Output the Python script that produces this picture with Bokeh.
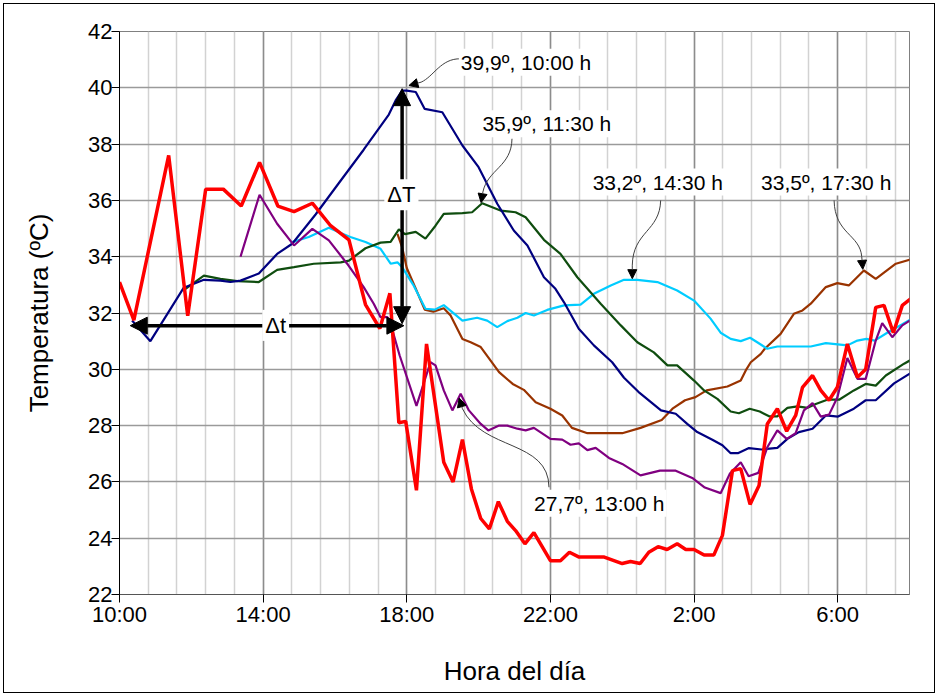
from bokeh.plotting import figure
from bokeh.models import FixedTicker, Label, Arrow, NormalHead, Range1d
from bokeh.embed import file_html
from bokeh.resources import INLINE

# ---- data: hours elapsed since 10:00 (x) and temperature in ºC (y) ----
red_t = [0.0, 0.4, 1.37, 1.9, 2.4, 2.89, 3.39, 3.9, 4.41, 4.86, 5.37, 5.88, 6.39, 6.85, 7.25,
         7.53, 7.78, 7.97, 8.27, 8.55, 9.03, 9.29, 9.55, 9.8, 10.06, 10.3, 10.55, 10.8, 11.03,
         11.29, 11.54, 12.0, 12.28, 12.53, 12.8, 13.5, 14.0, 14.23, 14.5, 14.74, 15.0, 15.25,
         15.53, 15.77, 16.0, 16.28, 16.55, 16.79, 17.07, 17.3, 17.56, 17.81, 18.04, 18.32,
         18.58, 18.83, 19.02, 19.3, 19.53, 19.76, 19.99, 20.27, 20.55, 20.78, 21.06, 21.29,
         21.55, 21.8, 22.03, 22.2]
red_v = [33.1, 31.75, 37.6, 31.9, 36.4, 36.4, 35.8, 37.35, 35.8, 35.6, 35.9, 35.1, 34.6, 32.3, 31.45,
         32.7, 28.1, 28.15, 25.7, 30.9, 26.7, 26.0, 27.5, 25.75, 24.7, 24.33, 25.3, 24.6, 24.27,
         23.8, 24.2, 23.2, 23.2, 23.5, 23.33, 23.33, 23.1, 23.17, 23.1, 23.5, 23.7, 23.6,
         23.8, 23.6, 23.6, 23.4, 23.4, 24.1, 26.4, 26.47, 25.2, 25.87, 28.06, 28.6,
         27.8, 28.36, 29.36, 29.78, 29.25, 28.9, 29.36, 30.9, 29.72, 30.0, 32.2, 32.27,
         31.3, 32.27, 32.5, 32.3]

navy_t = [0.35, 0.86, 1.79, 2.35, 2.81, 3.09, 3.37, 3.88, 4.39, 4.81, 5.46, 6.1, 6.8, 7.5, 7.69,
          7.87, 8.0, 8.25, 8.5, 8.99, 9.55, 10.0, 10.52, 10.98, 11.36, 11.82, 12.14, 12.38,
          12.79, 13.21, 13.72, 14.05, 14.45, 15.08, 15.49, 15.81, 16.09, 16.51, 16.79, 17.02,
          17.22, 17.53, 17.88, 18.32, 18.6, 18.92, 19.3, 19.67, 20.01, 20.45, 20.78, 21.06,
          21.57, 22.2]
navy_v = [31.73, 31.0, 32.9, 33.18, 33.15, 33.1, 33.15, 33.4, 34.1, 34.46, 35.5, 36.6, 37.8, 39.05, 39.55,
          39.9, 39.9, 39.85, 39.25, 39.13, 37.95, 37.18, 35.88, 34.93, 34.4, 33.27, 32.86, 32.38,
          31.44, 30.85, 30.25, 29.7, 29.2, 28.54, 28.42, 28.06, 27.77, 27.5, 27.3, 27.02,
          27.02, 27.2, 27.15, 27.21, 27.53, 27.77, 27.89, 28.36, 28.32, 28.6, 28.9, 28.9,
          29.5, 30.0]

green_t = [1.84, 2.35, 2.81, 3.28, 3.88, 4.39, 4.86, 5.41, 6.16, 6.39, 6.85, 7.27, 7.55, 7.78, 7.95,
           8.25, 8.52, 8.8, 9.03, 9.55, 9.82, 10.1, 10.61, 11.03, 11.31, 11.82, 12.28, 12.75,
           13.4, 13.96, 14.42, 14.88, 15.26, 15.53, 16.0, 16.28, 16.65, 17.02, 17.25, 17.55,
           17.83, 18.09, 18.32, 18.6, 18.88, 19.16, 19.39, 19.71, 20.04, 20.45, 20.78, 21.06,
           21.34, 21.85, 22.2]
green_v = [32.86, 33.33, 33.21, 33.13, 33.1, 33.53, 33.63, 33.75, 33.8, 33.86, 34.3, 34.5, 34.53, 34.97, 34.8,
           34.88, 34.64, 35.1, 35.52, 35.55, 35.58, 35.9, 35.64, 35.58, 35.4, 34.6, 34.1, 33.27,
           32.33, 31.56, 30.96, 30.6, 30.14, 30.14, 29.6, 29.25, 28.95, 28.5, 28.44, 28.6,
           28.5, 28.33, 28.33, 28.63, 28.68, 28.63, 28.77, 28.92, 28.92, 29.25, 29.48, 29.42,
           29.78, 30.2, 30.45]

cyan_t = [4.76, 5.27, 5.83, 6.16, 6.43, 6.85, 7.27, 7.55, 7.74, 7.87, 8.18, 8.52, 8.78, 9.03, 9.25,
          9.55, 9.96, 10.24, 10.52, 10.8, 11.08, 11.31, 11.54, 11.91, 12.38, 12.84, 13.21, 13.68,
          14.05, 14.42, 14.98, 15.53, 16.0, 16.46, 16.74, 17.02, 17.3, 17.56, 17.76, 18.04, 18.32,
          19.25, 19.67, 20.27, 20.55, 20.8, 21.03, 21.38, 21.8, 22.2]
cyan_v = [34.5, 34.7, 35.03, 34.84, 34.7, 34.52, 34.28, 33.75, 33.8, 33.63, 33.0, 32.15, 32.12, 32.28, 32.05,
          31.73, 31.83, 31.73, 31.5, 31.71, 31.83, 32.0, 31.91, 32.11, 32.27, 32.3, 32.68, 32.98,
          33.18, 33.18, 33.1, 32.8, 32.44, 31.8, 31.3, 31.08, 31.0, 31.12, 30.96, 30.73, 30.81,
          30.81, 30.93, 30.85, 31.02, 31.08, 31.02, 31.3, 31.6, 31.9]

brown_t = [7.74, 7.87, 8.0, 8.22, 8.5, 8.74, 9.03, 9.22, 9.55, 9.78, 10.06, 10.57, 10.95, 11.26, 11.59,
           12.0, 12.33, 12.6, 13.03, 14.0, 14.51, 15.1, 15.4, 15.75, 16.04, 16.35, 16.93, 17.3,
           17.44, 17.58, 17.86, 17.97, 18.41, 18.78, 19.02, 19.25, 19.67, 19.99, 20.31, 20.73,
           21.06, 21.62, 22.2]
brown_v = [34.81, 34.34, 33.6, 32.95, 32.12, 32.05, 32.17, 31.91, 31.08, 30.96, 30.79, 29.9, 29.48, 29.27, 28.83,
           28.6, 28.36, 27.92, 27.73, 27.73, 27.92, 28.2, 28.6, 28.9, 29.01, 29.25, 29.39, 29.6,
           29.96, 30.25, 30.55, 30.73, 31.26, 31.97, 32.09, 32.33, 32.92, 33.06, 32.98, 33.51,
           33.21, 33.75, 33.97]

purple_t = [3.37, 3.9, 4.39, 4.86, 5.37, 5.83, 6.34, 6.8, 7.08, 7.27, 7.46, 7.55, 7.8, 8.27, 8.66,
            8.8, 9.03, 9.27, 9.5, 9.73, 10.06, 10.27, 10.57, 10.8, 11.08, 11.31, 11.54, 12.0,
            12.33, 12.56, 12.79, 13.03, 13.26, 13.63, 14.0, 14.51, 15.05, 15.49, 15.95, 16.3,
            16.74, 17.0, 17.3, 17.52, 17.79, 18.04, 18.32, 18.58, 18.83, 19.06, 19.3, 19.53,
            19.76, 19.99, 20.27, 20.55, 20.78, 21.06, 21.24, 21.52, 21.8, 22.2]
purple_v = [34.0, 36.2, 35.17, 34.4, 34.99, 34.58, 33.75, 32.92, 32.33, 31.85, 31.85, 31.62, 30.5, 28.7, 30.25,
            30.14, 29.25, 28.54, 29.13, 28.54, 28.06, 27.83, 28.0, 28.0, 27.89, 27.83, 27.92, 27.53,
            27.5, 27.32, 27.37, 27.13, 27.21, 26.85, 26.64, 26.23, 26.4, 26.4, 26.14, 25.8,
            25.6, 26.3, 26.7, 26.2, 26.32, 27.23, 27.83, 27.53, 27.73, 28.54, 28.8, 28.32,
            28.39, 29.0, 30.4, 29.66, 29.66, 31.02, 31.64, 31.14, 31.56, 31.88]

x_ticks = [0, 4, 8, 12, 16, 20]
x_tick_labels = ["10:00", "14:00", "18:00", "22:00", "2:00", "6:00"]
x_minor_ticks = [i * 0.8 for i in range(28)]
y_ticks = list(range(22, 43, 2))

callout_texts = ["39,9º, 10:00 h", "35,9º, 11:30 h", "33,2º, 14:30 h", "33,5º, 17:30 h", "27,7º, 13:00 h"]

FONT = "Liberation Sans"

p = figure(width=938, height=696, output_backend="svg", toolbar_location=None,
           x_range=Range1d(0, 22), y_range=Range1d(22, 42),
           min_border_left=119, min_border_right=29, min_border_top=31, min_border_bottom=102,
           background_fill_color="white", border_fill_color="white", border_fill_alpha=0.0)
p.styles = {"box-shadow": "inset 0 0 0 3px white, inset 0 0 0 4px black", "background": "white"}
p.outline_line_color = "#808080"
p.outline_line_width = 1

# axes
p.xaxis.ticker = FixedTicker(ticks=x_ticks, minor_ticks=x_minor_ticks)
p.xaxis.major_label_overrides = {t: s for t, s in zip(x_ticks, x_tick_labels)}
p.yaxis.ticker = FixedTicker(ticks=y_ticks)
for ax in (p.xaxis[0], p.yaxis[0]):
    ax.major_label_text_font = FONT
    ax.major_label_text_font_size = "22px"
    ax.major_label_text_color = "black"
    ax.axis_label_text_font = FONT
    ax.axis_label_text_font_size = "26px"
    ax.axis_label_text_font_style = "normal"
    ax.axis_label_text_color = "black"
    ax.major_tick_out = 8
    ax.major_tick_in = 0
    ax.minor_tick_out = 0
    ax.minor_tick_in = 0
    ax.major_tick_line_color = "black"
    ax.axis_line_color = "black"
p.xaxis.axis_label = "Hora del día"
p.yaxis.axis_label = "Temperatura (ºC)"
p.xaxis.major_label_standoff = -1
p.yaxis.major_label_standoff = -1
p.xaxis.axis_label_standoff = 26
p.yaxis.axis_label_standoff = 31
p.xaxis.axis_line_color = "#555555"

# grids
p.xgrid.grid_line_color = "#8c8c8c"
p.xgrid.grid_line_width = 1.5
p.xgrid.minor_grid_line_color = "#d2d2d2"
p.xgrid.minor_grid_line_width = 1.5
p.ygrid.grid_line_color = "#9a9a9a"
p.ygrid.grid_line_width = 1.5

# series
p.line(brown_t, brown_v, line_color="#993300", line_width=2.2)
p.line(cyan_t, cyan_v, line_color="#00ccff", line_width=2.2)
p.line(green_t, green_v, line_color="#0f4d0f", line_width=2.2)
p.line(navy_t, navy_v, line_color="#000080", line_width=2.2)
p.line(purple_t, purple_v, line_color="#800080", line_width=2.2)
p.line(red_t, red_v, line_color="#ff0000", line_width=3.5)

# delta arrows
big_head = dict(size=17, fill_color="black", line_color="black")
p.add_layout(Arrow(start=NormalHead(**big_head), end=NormalHead(**big_head),
                   x_start=0.3, y_start=31.55, x_end=7.92, y_end=31.55,
                   line_color="black", line_width=3.5))
p.add_layout(Arrow(start=NormalHead(**big_head), end=NormalHead(**big_head),
                   x_start=7.87, y_start=31.62, x_end=7.87, y_end=39.97,
                   line_color="black", line_width=3.5))
p.add_layout(Label(x=7.85, y=36.2, text="ΔT", text_align="center", text_baseline="middle",
                   text_font=FONT, text_font_size="22px", text_color="black",
                   background_fill_color="white", padding=3))
p.add_layout(Label(x=4.35, y=31.56, text="Δt", text_align="center", text_baseline="middle",
                   text_font=FONT, text_font_size="22px", text_color="black",
                   background_fill_color="white", padding=3))

# callouts: curve (start, cp0, cp1, end), arrow tip, text anchor
callouts = [
    ((9.5, 41.03), (8.95, 41.05), (8.75, 40.4), (8.4, 40.2), (8.06, 40.08), (9.45, 40.91)),
    ((10.93, 38.19), (10.92, 37.2), (10.25, 37.1), (10.12, 36.3), (10.07, 35.92), (10.05, 38.72)),
    ((15.07, 36.0), (15.05, 34.9), (14.3, 34.9), (14.28, 33.7), (14.28, 33.22), (13.12, 36.65)),
    ((19.9, 36.0), (19.92, 34.8), (20.62, 34.8), (20.67, 34.0), (20.7, 33.55), (17.81, 36.65)),
    ((11.96, 25.81), (11.95, 27.5), (10.1, 27.1), (9.55, 28.6), (9.46, 28.98), (11.49, 25.24)),
]
for (s, c0, c1, e, tip, anchor), txt in zip(callouts, callout_texts):
    p.bezier(x0=[s[0]], y0=[s[1]], cx0=[c0[0]], cy0=[c0[1]], cx1=[c1[0]], cy1=[c1[1]],
             x1=[e[0]], y1=[e[1]], line_color="#404040", line_width=1)
    p.add_layout(Arrow(end=NormalHead(size=9, fill_color="black", line_color="black"),
                       x_start=e[0], y_start=e[1], x_end=tip[0], y_end=tip[1],
                       line_color="#404040", line_width=1))
    p.add_layout(Label(x=anchor[0], y=anchor[1], text=txt, text_align="left",
                       text_baseline="middle", text_font=FONT, text_font_size="21px",
                       text_color="black", background_fill_color="white", padding=2))

open("out.html", "w").write(file_html(p, INLINE))
